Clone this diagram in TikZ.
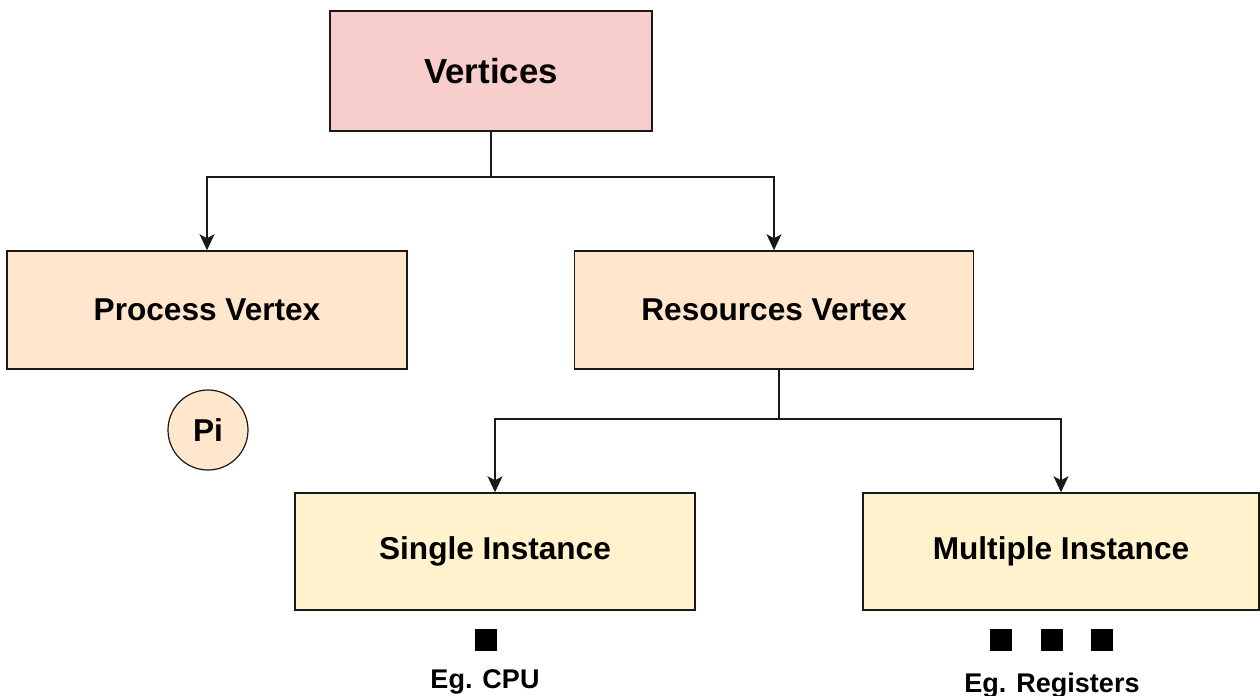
\documentclass[tikz,border=0pt]{standalone}
\usepackage{fontspec}
\setmainfont{Liberation Sans}
\usepackage{tikz}
\usetikzlibrary{arrows.meta}
\usepackage{xcolor}
\definecolor{ColTop}{RGB}{248,206,204}
\definecolor{ColMid}{RGB}{255,230,204}
\definecolor{ColLow}{RGB}{255,242,204}
\tikzstyle{BoxTree}=[rectangle,draw=black!90,line width=0.75pt,inner sep=0pt,
minimum width=200pt,minimum height=59pt,font=\fontsize{15.8}{18}\selectfont\bfseries]
\tikzstyle{DotInst}=[rectangle,fill=black,inner sep=0pt,minimum size=11pt]
\tikzstyle{TextEg}=[inner sep=0pt,font=\fontsize{13.5}{16}\selectfont\bfseries]
\tikzstyle{EdgeTree}=[black!90,line width=0.6pt]
\tikzstyle{ArrowTree}=[EdgeTree,-{Stealth[length=8pt,width=7.5pt,inset=2pt]}]

\begin{document}
\begin{tikzpicture}[x=0.5pt,y=-0.5pt]
        \useasboundingbox(0,0)rectangle(1260,696);
        \node[BoxTree,fill=ColTop,minimum width=161pt,minimum height=60pt,
          font=\fontsize{17.4}{20}\selectfont\bfseries](vert)at(491,71){Vertices};
        \node[BoxTree,fill=ColMid](proc)at(207,310){Process Vertex};
        \node[BoxTree,fill=ColMid,minimum width=199.5pt](res)at(774,310){Resources Vertex};
        \node[BoxTree,fill=ColLow,minimum height=58.5pt](single)at(495,551.5){Single Instance};
        \node[BoxTree,fill=ColLow,minimum width=198pt,minimum height=58.5pt](multi)at(1061,551.5){Multiple Instance};
        \node[circle,draw=black!90,fill=ColMid,line width=0.6pt,inner sep=0pt,minimum size=40pt,
          font=\fontsize{15.8}{18}\selectfont\bfseries](pi)at(208,430){Pi};
        \node[DotInst](d1)at(486,640){};
        \node[DotInst](d2)at(1001,640){};
        \node[DotInst](d3)at(1052,640){};
        \node[DotInst](d4)at(1102,640){};
        \node[TextEg](cpu)at(485,682){Eg. CPU};
        \node[TextEg](reg)at(1052,686){Eg. Registers};
        \coordinate(j1)at(491,177);
        \coordinate(j2)at(779,419);
        \draw[EdgeTree](vert)--(j1);
        \draw[ArrowTree](j1)-|(proc);
        \draw[ArrowTree](j1)-|(res);
        \draw[EdgeTree](res.south-|j2)--(j2);
        \draw[ArrowTree](j2)-|(single);
        \draw[ArrowTree](j2)-|(multi);
    \end{tikzpicture}
\end{document}
